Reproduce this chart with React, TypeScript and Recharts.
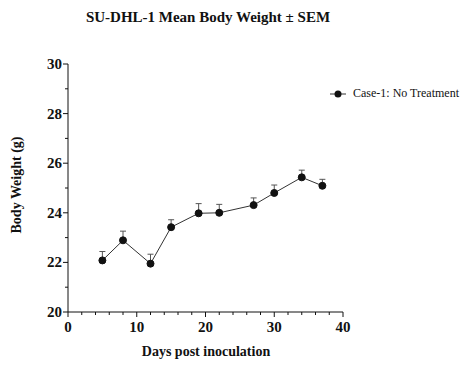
import { ErrorBar, Line, LineChart, XAxis, YAxis } from "recharts";

// Days post inoculation
const days = [5, 8, 12, 15, 19, 22, 27, 30, 34, 37];
// Mean body weight (g)
const meanWeight = [22.08, 22.89, 21.95, 23.42, 23.98, 24.0, 24.31, 24.8, 25.43, 25.09];
// SEM (only drawn upward)
const semWeight = [0.36, 0.37, 0.38, 0.3, 0.39, 0.34, 0.29, 0.32, 0.29, 0.26];

const xTicks = [0, 2, 4, 6, 8, 10, 12, 14, 16, 18, 20, 22, 24, 26, 28, 30, 32, 34, 36, 38, 40];
const xMajor = [0, 10, 20, 30, 40];
const yTicks = [20, 21, 22, 23, 24, 25, 26, 27, 28, 29, 30];
const yMajor = [20, 22, 24, 26, 28, 30];

const seriesName = "Case-1: No Treatment";
const FONT = '"Liberation Serif", "Times New Roman", serif';
const INK = "#111";

const data = days.map((d, i) => ({
  day: d,
  weight: meanWeight[i],
  err: [0, semWeight[i]],
}));

function XTick({ x, y, payload }: any) {
  const major = xMajor.includes(payload.value);
  return (
    <g>
      <line x1={x} x2={x} y1={y} y2={y + (major ? 5 : 3)} stroke={INK} strokeWidth={1} />
      {major && (
        <text x={x} y={y + 20} textAnchor="middle" fontFamily={FONT} fontWeight="bold" fontSize={15} fill={INK}>
          {payload.value}
        </text>
      )}
    </g>
  );
}

function YTick({ x, y, payload }: any) {
  const major = yMajor.includes(payload.value);
  return (
    <g>
      <line x1={x} x2={x - (major ? 5 : 3)} y1={y} y2={y} stroke={INK} strokeWidth={1} />
      {major && (
        <text x={x - 6} y={y + 5} textAnchor="end" fontFamily={FONT} fontWeight="bold" fontSize={15} fill={INK}>
          {payload.value}
        </text>
      )}
    </g>
  );
}

const textBase = { position: "absolute" as const, fontFamily: FONT, color: INK, whiteSpace: "nowrap" as const };

export default function App() {
  return (
    <div style={{ position: "relative", width: 473, height: 389, margin: -8, background: "#fff" }}>
      <LineChart
        width={473}
        height={389}
        data={data}
        margin={{ top: 64, right: 130, left: 28, bottom: 47 }}
        style={{ position: "absolute", top: 0, left: 0 }}
      >
        <XAxis
          dataKey="day"
          type="number"
          domain={[0, 40]}
          ticks={xTicks}
          interval={0}
          tickLine={false}
          tickSize={0}
          tickMargin={0}
          height={30}
          axisLine={{ stroke: INK, strokeWidth: 1 }}
          tick={<XTick />}
        />
        <YAxis
          type="number"
          domain={[20, 30]}
          ticks={yTicks}
          interval={0}
          tickLine={false}
          tickSize={0}
          tickMargin={0}
          width={40}
          axisLine={{ stroke: INK, strokeWidth: 1 }}
          tick={<YTick />}
        />
        <Line
          dataKey="weight"
          name={seriesName}
          stroke="#333"
          strokeWidth={1}
          dot={{ r: 3.5, fill: INK, stroke: INK, strokeWidth: 1 }}
          isAnimationActive={false}
        >
          <ErrorBar dataKey="err" direction="y" width={3} stroke="#555" strokeWidth={1} />
        </Line>
      </LineChart>
      <div style={{ ...textBase, top: 9, left: 0, width: 416, textAlign: "center", fontWeight: "bold", fontSize: 15 }}>
        SU-DHL-1 Mean Body Weight ± SEM
      </div>
      <div
        style={{
          ...textBase,
          left: 17,
          top: 185,
          transform: "translate(-50%, -50%) rotate(-90deg)",
          fontWeight: "bold",
          fontSize: 14,
        }}
      >
        Body Weight (g)
      </div>
      <div style={{ ...textBase, top: 344, left: 0, width: 412, textAlign: "center", fontWeight: "bold", fontSize: 14 }}>
        Days post inoculation
      </div>
      <div
        style={{
          ...textBase,
          top: 86,
          left: 329,
          width: 144,
          display: "flex",
          alignItems: "center",
          fontSize: 12,
        }}
      >
        <svg width={18} height={10} style={{ marginRight: 6, flexShrink: 0 }}>
          <line x1={1} x2={17} y1={5} y2={5} stroke="#333" strokeWidth={1} />
          <circle cx={9} cy={5} r={3.5} fill={INK} />
        </svg>
        <span>{seriesName}</span>
      </div>
    </div>
  );
}
